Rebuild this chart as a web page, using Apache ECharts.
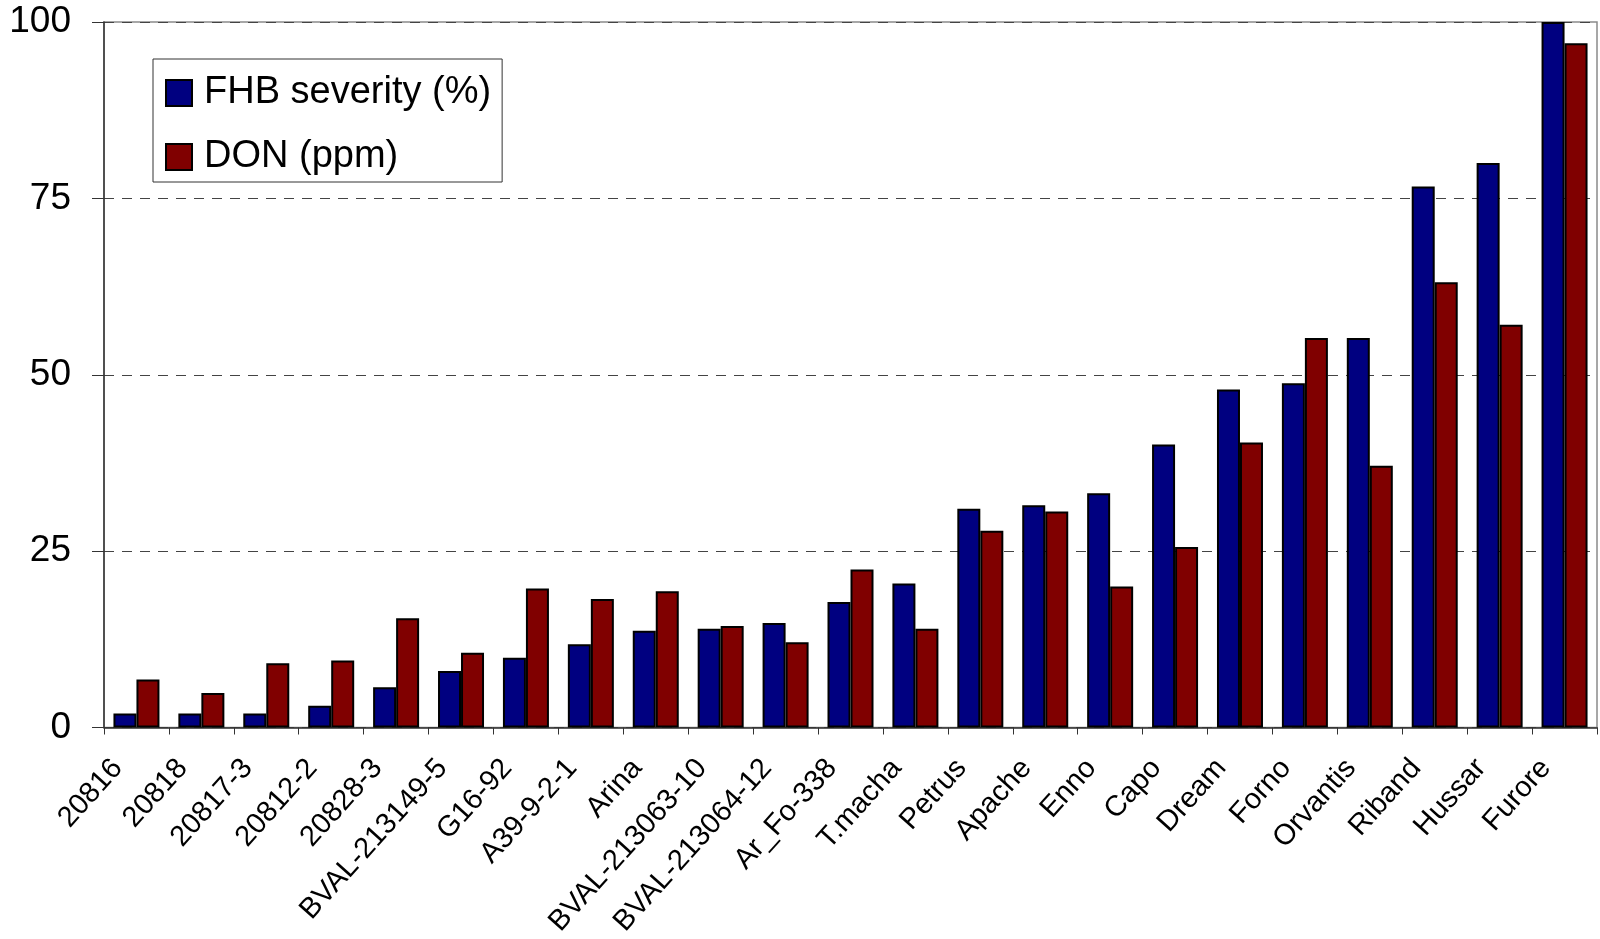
<!DOCTYPE html>
<html>
<head>
<meta charset="utf-8">
<script src="https://cdn.jsdelivr.net/npm/echarts@6/dist/echarts.min.js"></script>
<style>
  html, body { margin: 0; padding: 0; background: #fff; }
  #chart { width: 1600px; height: 939px; }
</style>
</head>
<body>
<div id="chart"></div>
<script>
// Wheat lines / cultivars, ordered by FHB severity
const categories = [
  '20816', '20818', '20817-3', '20812-2', '20828-3', 'BVAL-213149-5', 'G16-92',
  'A39-9-2-1', 'Arina', 'BVAL-213063-10', 'BVAL-213064-12', 'Ar_Fo-338', 'T.macha',
  'Petrus', 'Apache', 'Enno', 'Capo', 'Dream', 'Forno', 'Orvantis', 'Riband',
  'Hussar', 'Furore'
];

// FHB severity (%)
const fhbSeverity = [
  2.0, 2.0, 2.0, 3.1, 5.7, 8.0, 9.9, 11.8, 13.7, 14.0, 14.8, 17.8, 20.4,
  31.0, 31.5, 33.2, 40.1, 47.9, 48.8, 55.2, 76.7, 80.0, 100
];

// DON content (ppm)
const donPpm = [
  6.8, 4.9, 9.1, 9.5, 15.5, 10.6, 19.7, 18.2, 19.3, 14.4, 12.1, 22.4, 14.0,
  27.9, 30.6, 20.0, 25.6, 40.4, 55.2, 37.1, 63.1, 57.1, 97.0
];

const yTicks = { min: 0, max: 100, interval: 25 };
const seriesNames = ['FHB severity (%)', 'DON (ppm)'];

const FONT = "'Liberation Sans', Arial, sans-serif";

const chart = echarts.init(document.getElementById('chart'), null, { renderer: 'canvas' });

chart.setOption({
  animation: false,
  backgroundColor: '#ffffff',
  textStyle: { fontFamily: FONT, color: '#000' },
  grid: {
    left: 104, right: 3, top: 22, bottom: 209,
    show: true, borderColor: '#8a8a8a', borderWidth: 1.5, containLabel: false
  },
  legend: {
    orient: 'vertical',
    left: 153, top: 59,
    padding: [14, 11, 5, 12],
    itemWidth: 26, itemHeight: 26, itemGap: 24,
    borderColor: '#333', borderWidth: 1,
    icon: 'rect',
    textStyle: { fontFamily: FONT, fontSize: 38, color: '#000', lineHeight: 40, padding: [0, 0, 0, 7] },
    data: seriesNames
  },
  xAxis: {
    type: 'category',
    data: categories,
    axisLine: { show: true, lineStyle: { color: '#333', width: 1.5 } },
    axisTick: { show: true, alignWithLabel: false, length: 7, lineStyle: { color: '#333', width: 1 } },
    axisLabel: {
      interval: 0, rotate: 48, margin: 15,
      padding: [0, 28, 0, 0],
      fontFamily: FONT, fontSize: 29, color: '#000'
    },
    splitLine: { show: false }
  },
  yAxis: {
    type: 'value',
    min: yTicks.min, max: yTicks.max, interval: yTicks.interval,
    axisLine: { show: true, lineStyle: { color: '#333', width: 1.5 } },
    axisTick: { show: true, inside: false, length: 12, lineStyle: { color: '#333', width: 1 } },
    axisLabel: { margin: 33, fontFamily: FONT, fontSize: 37, color: '#000' },
    splitLine: { show: true, lineStyle: { color: '#444', width: 1, type: [10, 8] } }
  },
  series: [
    {
      name: seriesNames[0],
      type: 'bar',
      data: fhbSeverity,
      barWidth: 23,
      barGap: '0%',
      itemStyle: { color: '#000080', borderColor: '#000', borderWidth: 2 }
    },
    {
      name: seriesNames[1],
      type: 'bar',
      data: donPpm,
      barWidth: 23,
      barGap: '0%',
      itemStyle: { color: '#800000', borderColor: '#000', borderWidth: 2 }
    }
  ]
});
</script>
</body>
</html>
